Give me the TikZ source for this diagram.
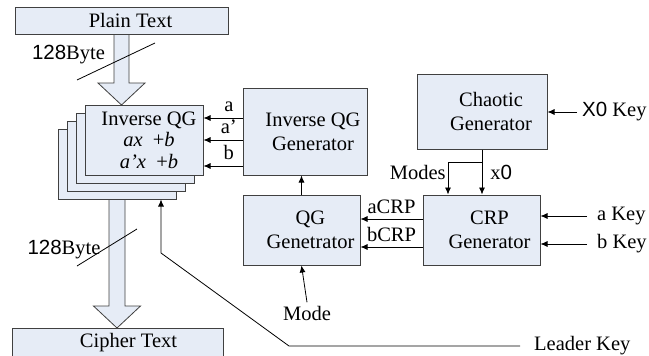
\documentclass[tikz,border=0pt]{standalone}
\usepackage{fontspec}
\setmainfont{Liberation Serif}
\newfontfamily\arialfont{Liberation Sans}
\usetikzlibrary{arrows.meta}
\definecolor{boxfill}{RGB}{230,236,246}
\definecolor{boxline}{RGB}{64,64,64}
\tikzstyle{block} = [
    rectangle,
    draw=boxline,
    fill=boxfill,
    line width=1pt
]
\tikzstyle{stackbox} = [
    block,
    minimum width=118pt,
    minimum height=70pt
]
\tikzstyle{boxtext} = [align=center, inner sep=0pt]
\tikzstyle{bigarrow} = [draw=boxline, fill=boxfill, line width=0.8pt]
\tikzstyle{arrow} = [line width=0.8pt,->,>={Latex[length=7pt,width=6pt]}]
\tikzstyle{sig} = [inner sep=1pt]

\begin{document}
\begin{tikzpicture}[x=1pt, y=-1pt, font=\fontsize{20.5}{24}\selectfont]
\useasboundingbox (0,0) rectangle (649,356);

% boxes
\node (plain) [block, minimum width=213pt, minimum height=27pt] at (121.5,20.5) {};
\node [boxtext] at ([xshift=9pt]plain) {Plain Text};
\node (cipher) [block, minimum width=211pt, minimum height=30pt] at (117.5,343) {};
\node [boxtext] at ([xshift=11pt]cipher) {Cipher Text};

\node (inv3) [stackbox] at (117,164) {};
\node (inv2) [stackbox] at (126,156) {};
\node (inv1) [stackbox] at (135,148) {};
\node (inv) [stackbox] at (144,140) {};
\node [boxtext, font=\fontsize{20.5}{21.5}\selectfont] at ([xshift=5pt]inv)
{Inverse QG\\ \textit{ax}~~+\textit{b}\\ \textit{a'x}~~+\textit{b}};

\node (invgen) [block, minimum width=124pt, minimum height=87pt] at (305,131.5) {};
\node [boxtext] at ([xshift=8pt]invgen) {Inverse QG\\Generator};
\node (qg) [block, minimum width=117pt, minimum height=70pt] at (301.5,230) {};
\node [boxtext] at ([xshift=9pt]qg) {QG\\Genetrator};
\node (crp) [block, minimum width=117pt, minimum height=70pt] at (481.5,230) {};
\node [boxtext] at ([xshift=8pt]crp) {CRP\\Generator};
\node (chaos) [block, minimum width=130pt, minimum height=75pt] at (482,111.5) {};
\node [boxtext] at ([xshift=9pt]chaos) {Chaotic\\Generator};

% keys
\node (x0key) [anchor=west, inner xsep=5pt] at (577,112) {{\arialfont X0} Key};
\node (akey) [anchor=west, inner xsep=10pt] at (587,216) {a Key};
\node (bkey) [anchor=west, inner xsep=10pt] at (587,244) {b Key};
\node (mode) at (307,313) {Mode};
\node (leader) [anchor=west, inner xsep=14pt] at (520,346) {Leader Key};

% block arrows
\draw [bigarrow] ([xshift=-7.5pt,yshift=-0.5pt]plain.south) -- ++(0,48) -- ++(-16,0)
    -- ++(23.5,22) -- ++(23.5,-22) -- ++(-16,0) -- ++(0,-48);
\draw [bigarrow] ([xshift=-8pt,yshift=-0.5pt]inv3.south) -- ++(0,106) -- ++(-15.5,0)
    -- ++(23.5,22) -- ++(23.5,-22) -- ++(-15.5,0) -- ++(0,-106);

\draw [line width=0.8pt] (77,80) -- (155,43);
\node (byte1) at (68.5,55) {{\arialfont 128}Byte};
\draw [line width=0.8pt] (77,266) -- (137,229);
\node (byte2) at (64,250) {{\arialfont 128}Byte};

% connectors
\coordinate (aout) at ([yshift=13.5pt]invgen.west);
\coordinate (adout) at ([yshift=-8.5pt]invgen.west);
\coordinate (bout) at ([yshift=-34.5pt]invgen.west);
\draw [arrow] (aout) -- (aout -| inv.east) node [sig, pos=0.35, above=5pt] {a};
\draw [arrow] (adout) -- (adout -| inv.east) node [sig, pos=0.35, above=5pt] {a'};
\draw [arrow] (bout) -- (bout -| inv.east) node [sig, pos=0.35, above=5pt] {b};

\draw [arrow] (qg.north) -- (qg.north |- invgen.south);
\draw [arrow] (mode.north) -- (qg.south);

\coordinate (acrp) at ([yshift=11pt]crp.west);
\coordinate (bcrp) at ([yshift=-17pt]crp.west);
\draw [arrow] (acrp) -- (acrp -| qg.east) node [sig, midway, above=4pt] {aCRP};
\draw [arrow] (bcrp) -- (bcrp -| qg.east) node [sig, midway, above=4pt] {bCRP};

\draw [arrow] (akey.west) -- (akey.west -| crp.east);
\draw [arrow] (bkey.west) -- (bkey.west -| crp.east);
\draw [arrow] (x0key.west) -- (x0key.west -| chaos.east);

\coordinate (split) at ([yshift=-13pt]chaos.south);
\draw [arrow] (chaos.south) -- (chaos.south |- crp.north)
    node [sig, pos=0.5, right=7pt] {x{\arialfont 0}};
\draw [arrow] (split) -| ([xshift=-33.5pt]crp.north)
    node [sig, pos=0.65, left=1pt] {Modes};

\coordinate (lk1) at (289,346);
\coordinate (lk2) at (161,253);
\draw [arrow] (leader.west) -- (lk1) -- (lk2) -- (lk2 |- inv3.south);

\end{tikzpicture}
\end{document}
